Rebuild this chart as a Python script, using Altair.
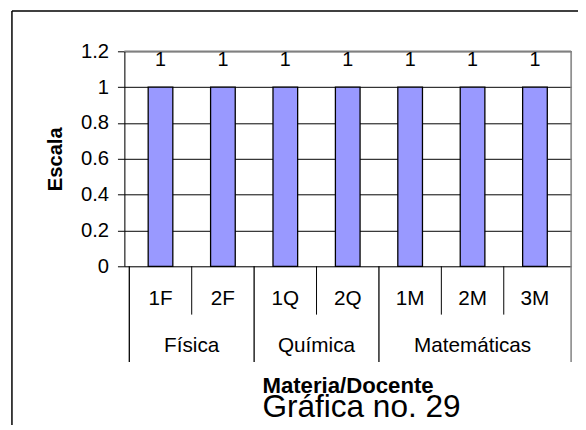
import altair as alt
import pandas as pd

# --- data ---
categories = ["1F", "2F", "1Q", "2Q", "1M", "2M", "3M"]
groups = ["Física", "Física", "Química", "Química", "Matemáticas", "Matemáticas", "Matemáticas"]
values = [1, 1, 1, 1, 1, 1, 1]
y_ticks = [0, 0.2, 0.4, 0.6, 0.8, 1.0, 1.2]

df = pd.DataFrame({
    "cat": categories,
    "group": groups,
    "value": values,
    "idx": list(range(len(categories))),
})

W, H = 453, 218
FONT = "Liberation Sans"

base = alt.Chart(df).transform_calculate(mid="datum.idx + 0.5")
xq = alt.X("mid:Q", scale=alt.Scale(domain=[0, len(categories)], nice=False, zero=False), axis=None)

bars = base.mark_bar(orient="vertical", size=25, color="#9999FF", stroke="black", strokeWidth=1.3).encode(
    x=xq,
    y=alt.Y(
        "value:Q",
        scale=alt.Scale(domain=[0, 1.2], nice=False),
        axis=alt.Axis(
            values=y_ticks, tickCount=len(y_ticks), format="~g", tickSize=7, labelPadding=9,
            labelFontSize=20.5, labelFont=FONT, labelColor="black", labelOverlap=False,
            labelBound=False, labelFlush=False,
            domainColor="black", tickColor="black",
            gridColor="black", gridWidth=1,
            title="Escala", titleFont=FONT, titleFontSize=20.5, titleFontWeight="bold",
            titleColor="black", titlePadding=15,
        ),
    ),
)

labels = base.mark_text(font=FONT, fontSize=20, color="black", dy=-21, baseline="alphabetic").encode(
    x="mid:Q", y="value:Q", text=alt.Text("value:Q", format="~g")
)

win = base.transform_window(prev="lag(group)", sort=[alt.SortField("idx")])

cat_sep = win.transform_filter("datum.prev == datum.group").mark_rule(color="black", strokeWidth=1).encode(
    x="idx:Q", y=alt.value(H), y2=alt.value(H + 49)
)
grp_sep = win.transform_filter("datum.prev != datum.group").mark_rule(color="black", strokeWidth=1.3).encode(
    x="idx:Q", y=alt.value(H), y2=alt.value(H + 97)
)

one = alt.Data(values=[{"k": 0}])

top_edge = alt.Chart(one).mark_rule(color="#808080", strokeWidth=1.5).encode(
    x=alt.value(0), x2=alt.value(W), y=alt.value(0)
)
right_edge = alt.Chart(one).mark_rule(color="#808080", strokeWidth=1.5).encode(
    x=alt.value(W), y=alt.value(0), y2=alt.value(H + 97)
)

cat_labels = base.mark_text(font=FONT, fontSize=21, color="black", baseline="middle").encode(
    x="mid:Q", y=alt.value(H + 33), text="cat:N"
)

grp_labels = base.transform_aggregate(center="mean(mid)", groupby=["group"]).mark_text(
    font=FONT, fontSize=21, color="black", baseline="middle"
).encode(x="center:Q", y=alt.value(H + 81), text="group:N")

t1 = alt.Chart(alt.Data(values=[{"t": "Materia/Docente"}])).mark_text(
    font=FONT, fontSize=22.5, fontWeight="bold", color="black", align="left", baseline="alphabetic"
).encode(x=alt.value(140), y=alt.value(H + 128), text="t:N")

t2 = alt.Chart(alt.Data(values=[{"t": "Gráfica no. 29"}])).mark_text(
    font=FONT, fontSize=32, color="black", align="left", baseline="alphabetic"
).encode(x=alt.value(140), y=alt.value(H + 153), text="t:N")

border_left = alt.Chart(one).mark_rule(color="black", strokeWidth=1.5).encode(
    x=alt.value(-114), y=alt.value(-41), y2=alt.value(H + 200)
)
border_top = alt.Chart(one).mark_rule(color="black", strokeWidth=1.5).encode(
    x=alt.value(-114), x2=alt.value(W + 40), y=alt.value(-41)
)

chart = alt.layer(
    bars, labels, cat_sep, grp_sep, top_edge, right_edge, cat_labels, grp_labels, t1, t2, border_left, border_top
).properties(
    width=W, height=H,
    autosize=alt.AutoSizeParams(type="none"),
    padding={"left": 118, "top": 41, "right": 7, "bottom": 158},
).configure_view(
    fill="#C0C0C0", stroke="#808080", strokeWidth=1.5
).configure(background="white")

chart.save("out.html", embed_options={"renderer": "svg", "actions": False})
